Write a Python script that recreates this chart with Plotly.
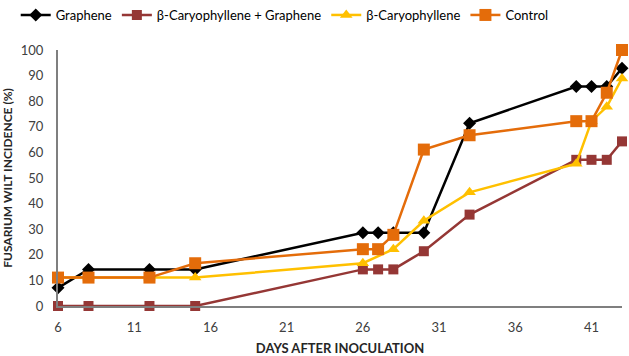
import plotly.graph_objects as go

days = [6, 8, 12, 15, 26, 27, 28, 30, 33, 40, 41, 42, 43]
graphene = [7.1, 14.3, 14.3, 14.3, 28.6, 28.6, 28.6, 28.6, 71.4, 85.7, 85.7, 85.7, 92.9]
bcp_graphene = [0, 0, 0, 0, 14.3, 14.3, 14.3, 21.4, 35.7, 57.1, 57.1, 57.1, 64.3]
days_bcp = [6, 8, 12, 15, 26, 28, 30, 33, 40, 41, 42, 43]
bcp = [11.1, 11.1, 11.1, 11.1, 16.7, 22.2, 33.3, 44.4, 55.6, 72.2, 77.8, 88.9]
control = [11.1, 11.1, 11.1, 16.7, 22.2, 22.2, 27.8, 61.1, 66.7, 72.2, 72.2, 83.3, 100]

x_ticks = [6, 11, 16, 21, 26, 31, 36, 41]
y_ticks = list(range(0, 101, 10))

FONT = "Lato"
fig = go.Figure()
fig.add_trace(go.Scatter(x=days, y=graphene, name="Graphene", mode="lines+markers",
                         line=dict(color="#000000", width=2.5),
                         marker=dict(symbol="diamond", size=10, color="#000000"),
                         cliponaxis=False))
fig.add_trace(go.Scatter(x=days, y=bcp_graphene, name="β-Caryophyllene + Graphene", mode="lines+markers",
                         line=dict(color="#953735", width=2.5),
                         marker=dict(symbol="square", size=10, color="#953735"),
                         cliponaxis=False))
fig.add_trace(go.Scatter(x=days_bcp, y=bcp, name="β-Caryophyllene", mode="lines+markers",
                         line=dict(color="#FFC000", width=2.5),
                         marker=dict(symbol="triangle-up", size=11, color="#FFC000"),
                         cliponaxis=False))
fig.add_trace(go.Scatter(x=days, y=control, name="Control", mode="lines+markers",
                         line=dict(color="#E46C0A", width=2.5),
                         marker=dict(symbol="square", size=12, color="#E46C0A"),
                         cliponaxis=False))

fig.update_layout(
    width=629, height=356,
    margin=dict(l=58, r=7, t=50, b=50, autoexpand=False),
    paper_bgcolor="white", plot_bgcolor="white",
    font=dict(family=FONT, size=13, color="#404040"),
    showlegend=True,
    legend=dict(orientation="h", x=0.025, xanchor="left", y=1, yanchor="top",
                yref="container", xref="container", font=dict(size=13, color="#000000"),
                itemwidth=30, tracegroupgap=0),
    xaxis=dict(range=[6, 43], tickvals=x_ticks, showgrid=False, zeroline=False,
               showline=True, linecolor="#7f7f7f", linewidth=2,
               ticks="outside", ticklen=8, tickcolor="rgba(0,0,0,0)",
               title=dict(text="<b>DAYS AFTER INOCULATION</b>", font=dict(size=13, color="#262626"), standoff=10),
               tickfont=dict(size=13, color="#404040")),
    yaxis=dict(range=[0, 100], tickvals=y_ticks, showgrid=False, zeroline=False,
               showline=True, linecolor="#7f7f7f", linewidth=2,
               ticks="outside", ticklen=10, tickcolor="rgba(0,0,0,0)",
               title=dict(text="<b>FUSARIUM WILT INCIDENCE (%)</b>", font=dict(size=12, color="#262626"), standoff=8),
               tickfont=dict(size=13, color="#404040")),
)
fig.write_html("out.html")
